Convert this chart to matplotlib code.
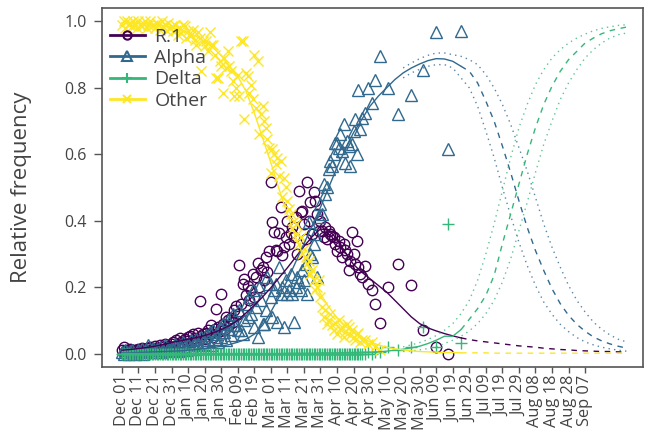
import matplotlib.pyplot as plt
from matplotlib.lines import Line2D
import numpy as np

plt.rcParams["font.family"] = ["Open Sans", "DejaVu Sans"]

# day 0 = Dec 01 2020
tick_days = list(range(0, 290, 10))
tick_labels = [
    "Dec 01", "Dec 11", "Dec 21", "Dec 31", "Jan 10", "Jan 20", "Jan 30",
    "Feb 09", "Feb 19", "Mar 01", "Mar 11", "Mar 21", "Mar 31", "Apr 10",
    "Apr 20", "Apr 30", "May 10", "May 20", "May 30", "Jun 09", "Jun 19",
    "Jun 29", "Jul 09", "Jul 19", "Jul 29", "Aug 08", "Aug 18", "Aug 28",
    "Sep 07",
]

variants = ["R.1", "Alpha", "Delta", "Other"]
colors = {"R.1": "#440154", "Alpha": "#31688E", "Delta": "#35B779", "Other": "#FDE725"}

# daily observed frequencies, days 0..145
daily_days = list(range(146))
r1_daily = [
    .010, .020, .008, .012, .006, .015, .010, .005, .012, .009,
    .014, .008, .016, .011, .006, .018, .012, .020, .009, .015,
    .022, .013, .018, .026, .012, .020, .030, .016, .024, .019,
    .028, .036, .022, .040, .030, .048, .034, .026, .044, .038,
    .050, .054, .035, .058, .046, .040, .063, .157, .052, .060,
    .045, .062, .070, .058, .085, .050, .075, .133, .080, .068,
    .178, .090, .072, .110, .100, .085, .108, .095, .130, .142,
    .120, .268, .150, .210, .223, .175, .202, .160, .190, .240,
    .170, .230, .274, .200, .250, .260, .220, .290, .245, .310,
    .515, .395, .365, .313, .310, .364, .440, .298, .320, .350,
    .400, .330, .364, .380, .350, .410, .300, .490, .425, .430,
    .390, .345, .515, .400, .455, .360, .485, .460, .420, .370,
    .400, .370, .350, .380, .345, .370, .360, .353, .350, .330,
    .310, .340, .320, .290, .330, .313, .300, .250, .280, .365,
    .300, .270, .340, .260, .240, .230,
]
alpha_daily = [
    .005, .000, .010, .004, .000, .008, .012, .003, .000, .006,
    .010, .004, .015, .000, .008, .012, .027, .005, .010, .018,
    .006, .015, .010, .020, .004, .012, .025, .008, .016, .010,
    .020, .012, .030, .018, .008, .025, .015, .035, .022, .010,
    .028, .020, .040, .015, .030, .045, .025, .018, .050, .035,
    .030, .055, .040, .065, .025, .070, .045, .060, .035, .080,
    .050, .090, .065, .040, .100, .075, .055, .120, .085, .087,
    .070, .130, .070, .060, .100, .150, .110, .170, .120, .190,
    .080, .140, .050, .200, .160, .090, .090, .130, .230, .210,
    .170, .110, .190, .210, .095, .260, .180, .200, .080, .220,
    .180, .190, .240, .180, .095, .200, .230, .215, .190, .250,
    .220, .270, .180, .395, .300, .290, .330, .360, .230, .410,
    .450, .420, .510, .480, .500, .555, .580, .565, .600, .635,
    .635, .620, .660, .610, .690, .575, .640, .625, .565, .630,
    .670, .705, .600, .795, .675, .710,
]
delta_daily = [
    .000, .000, .000, .000, .000, .000, .000, .000, .000, .000,
    .000, .000, .000, .000, .000, .000, .000, .000, .000, .000,
    .000, .000, .000, .000, .000, .000, .000, .000, .000, .000,
    .000, .000, .000, .000, .000, .000, .000, .000, .000, .000,
    .000, .000, .000, .000, .000, .000, .000, .000, .000, .000,
    .000, .000, .000, .000, .000, .000, .000, .000, .000, .000,
    .000, .000, .000, .000, .000, .000, .000, .000, .000, .000,
    .000, .000, .000, .000, .000, .000, .000, .000, .000, .000,
    .000, .000, .000, .000, .000, .000, .000, .000, .000, .000,
    .000, .000, .000, .000, .000, .000, .000, .000, .000, .000,
    .000, .000, .000, .000, .000, .000, .000, .000, .000, .000,
    .000, .000, .000, .000, .000, .000, .000, .000, .000, .000,
    .000, .000, .000, .000, .000, .000, .000, .000, .000, .000,
    .000, .000, .000, .000, .000, .000, .000, .000, .000, .000,
    .000, .000, .000, .000, .000, .000,
]
other_daily = [
    .990, 1.00, .980, 1.00, .990, .995, .985, 1.00, .990, .980,
    1.00, .990, .985, .995, 1.00, .980, .990, 1.00, .985, .990,
    .980, .995, .990, .975, 1.00, .985, .990, .970, .995, .980,
    .985, .970, .990, .975, .960, .980, .965, .990, .985, .950,
    .970, .955, .960, .975, .945, .930, .967, .950, .850, .940,
    .925, .940, .910, .967, .930, .930, .900, .830, .830, .880,
    .865, .785, .890, .860, .910, .865, .850, .820, .775, .800,
    .840, .775, .940, .940, .705, .845, .835, .785, .810, .765,
    .900, .740, .880, .660, .720, .745, .700, .680, .645, .620,
    .545, .615, .600, .570, .590, .535, .580, .470, .530, .500,
    .460, .435, .420, .375, .400, .390, .360, .330, .350, .300,
    .315, .290, .270, .280, .240, .250, .220, .190, .200, .220,
    .170, .140, .110, .130, .090, .100, .120, .085, .070, .093,
    .060, .100, .075, .080, .050, .065, .090, .080, .055, .070,
    .050, .042, .060, .063, .035, .040,
]

# later, sparser observations
sparse_days = [147, 149, 151, 153, 156, 161, 167, 175, 182, 190, 197, 205]
r1_sparse = [.263, .210, .190, .150, .093, .200, .270, .205, .072, .020, .000, np.nan]
alpha_sparse = [.725, .800, .755, .825, .895, .800, .720, .780, .855, .967, .615, .970]
delta_sparse = [.000, .005, .000, .004, .006, .020, .010, .020, .080, .020, .390, .033]
other_sparse = [.040, .030, .035, .020, .012, np.nan, np.nan, np.nan, np.nan, np.nan, np.nan, np.nan]

# fitted curves, every 5 days (solid up to day 205, projection after)
fit_days = list(range(0, 310, 5))
r1_fit = [
    .010, .012, .015, .018, .022, .027, .033, .038, .043, .048,
    .054, .062, .072, .084, .100, .122, .145, .170, .198, .228,
    .258, .290, .322, .352, .375, .372, .345, .305, .268, .245,
    .225, .205, .185, .160, .135, .110, .090, .077, .068, .060,
    .053, .047, .042, .038, .035, .032, .029, .026, .023, .021,
    .019, .016, .014, .012, .011, .009, .008, .007, .006, .006,
    .005, .005,
]
alpha_fit = [
    .002, .002, .003, .004, .005, .006, .007, .008, .010, .012,
    .015, .018, .022, .027, .034, .043, .058, .085, .125, .170,
    .220, .275, .330, .385, .440, .500, .560, .615, .665, .705,
    .745, .775, .800, .825, .845, .860, .872, .882, .888, .887,
    .880, .865, .850, .815, .760, .700, .625, .545, .460, .380,
    .310, .250, .195, .150, .115, .088, .067, .050, .038, .029,
    .022, .016,
]
delta_fit = [
    .000, .000, .000, .000, .000, .000, .000, .000, .000, .000,
    .000, .000, .000, .000, .000, .000, .000, .000, .000, .000,
    .001, .001, .001, .001, .002, .002, .002, .003, .003, .004,
    .004, .005, .007, .010, .013, .017, .022, .030, .040, .052,
    .052, .072, .103, .135, .175, .235, .330, .420, .510, .600,
    .680, .750, .805, .850, .885, .910, .935, .950, .963, .972,
    .978, .983,
]
other_fit = [
    .997, .996, .995, .993, .991, .987, .983, .976, .967, .955,
    .940, .922, .897, .865, .835, .790, .725, .650, .575, .495,
    .420, .350, .290, .235, .180, .140, .108, .082, .062, .047,
    .035, .026, .019, .014, .011, .008, .006, .005, .004, .003,
    .003, .002, .002, .002, .002, .001, .001, .001, .001, .001,
    .001, .001, .001, .001, .001, .001, .001, .001, .001, .001,
    .001, .001,
]

# confidence bands of the projection, days 170..305
band_days = list(range(170, 310, 5))
alpha_hi = [.860, .875, .888, .898, .905, .905, .900, .895, .885, .870,
            .840, .800, .750, .690, .620, .550, .470, .390, .320, .260,
            .205, .160, .125, .095, .073, .056, .043, .035]
alpha_lo = [.830, .845, .856, .865, .870, .870, .860, .830, .800, .745,
            .670, .590, .500, .415, .335, .265, .205, .155, .118, .088,
            .066, .048, .035, .026, .019, .014, .010, .007]
delta_hi = [.020, .026, .033, .042, .054, .070, .090, .120, .160, .220,
            .300, .390, .490, .590, .680, .750, .810, .855, .890, .915,
            .935, .950, .962, .972, .979, .984, .988, .990]
delta_lo = [.006, .008, .011, .015, .020, .030, .040, .052, .068, .090,
            .120, .160, .215, .285, .370, .455, .545, .630, .700, .765,
            .815, .855, .890, .915, .935, .950, .960, .965]

observed = {
    "R.1": (r1_daily, r1_sparse),
    "Alpha": (alpha_daily, alpha_sparse),
    "Delta": (delta_daily, delta_sparse),
    "Other": (other_daily, other_sparse),
}
fits = {"R.1": r1_fit, "Alpha": alpha_fit, "Delta": delta_fit, "Other": other_fit}
bands = {"Alpha": (alpha_lo, alpha_hi), "Delta": (delta_lo, delta_hi)}
markers = {
    "R.1": dict(marker="o", markersize=7.5, markerfacecolor="none"),
    "Alpha": dict(marker="^", markersize=9, markerfacecolor="none"),
    "Delta": dict(marker="+", markersize=9),
    "Other": dict(marker="x", markersize=7),
}

fig, ax = plt.subplots(figsize=(6.49, 4.30), dpi=100)
fig.subplots_adjust(left=0.157, right=0.991, top=0.981, bottom=0.147)

split = fit_days.index(205)
for v in variants:
    c = colors[v]
    daily, sparse = observed[v]
    for xs, ys in ((daily_days, daily), (sparse_days, sparse)):
        ax.plot(xs, ys, linestyle="none", color=c, markeredgecolor=c,
                markeredgewidth=1.0, **markers[v])

for v in variants:
    c = colors[v]
    f = fits[v]
    ax.plot(fit_days[:split + 1], f[:split + 1], color=c, lw=1.0)
    ax.plot(fit_days[split:], f[split:], color=c, lw=1.0, linestyle=(0, (4, 4)))
    if v in bands:
        lo, hi = bands[v]
        ax.plot(band_days, lo, color=c, lw=1.0, alpha=0.8, linestyle=(0, (1, 3)))
        ax.plot(band_days, hi, color=c, lw=1.0, alpha=0.8, linestyle=(0, (1, 3)))

ax.set_xlim(-12.1, 315.1)
ax.set_ylim(-0.04, 1.04)
ax.set_xticks(tick_days)
ax.set_xticklabels(tick_labels, rotation=90)
ax.set_yticks([0, 0.2, 0.4, 0.6, 0.8, 1.0])
ax.set_yticklabels(["0.0", "0.2", "0.4", "0.6", "0.8", "1.0"])
ax.tick_params(axis="both", width=1, color="#555555", labelcolor="#444444")
ax.tick_params(axis="x", labelsize=11.8, length=4, pad=1.5)
ax.tick_params(axis="y", labelsize=11.5, length=6, pad=5)
ax.set_ylabel("Relative frequency", fontsize=16, color="#444444")
ax.yaxis.set_label_coords(-0.13, 0.5)
for s in ax.spines.values():
    s.set_color("#555555")
    s.set_linewidth(1.2)

handles = [
    Line2D([], [], color=colors[v], lw=2, markeredgecolor=colors[v],
           markeredgewidth=1.5,
           **{**markers[v], "markersize": markers[v]["markersize"] * 0.8})
    for v in variants
]
ax.legend(handles, variants, loc="upper left", bbox_to_anchor=(0, 0.967),
          frameon=False, fontsize=14, handlelength=1.8, handletextpad=0.5,
          labelspacing=0.17, borderaxespad=0.1, borderpad=0.3,
          labelcolor="#444444")

fig.savefig("out.png", dpi=100)
